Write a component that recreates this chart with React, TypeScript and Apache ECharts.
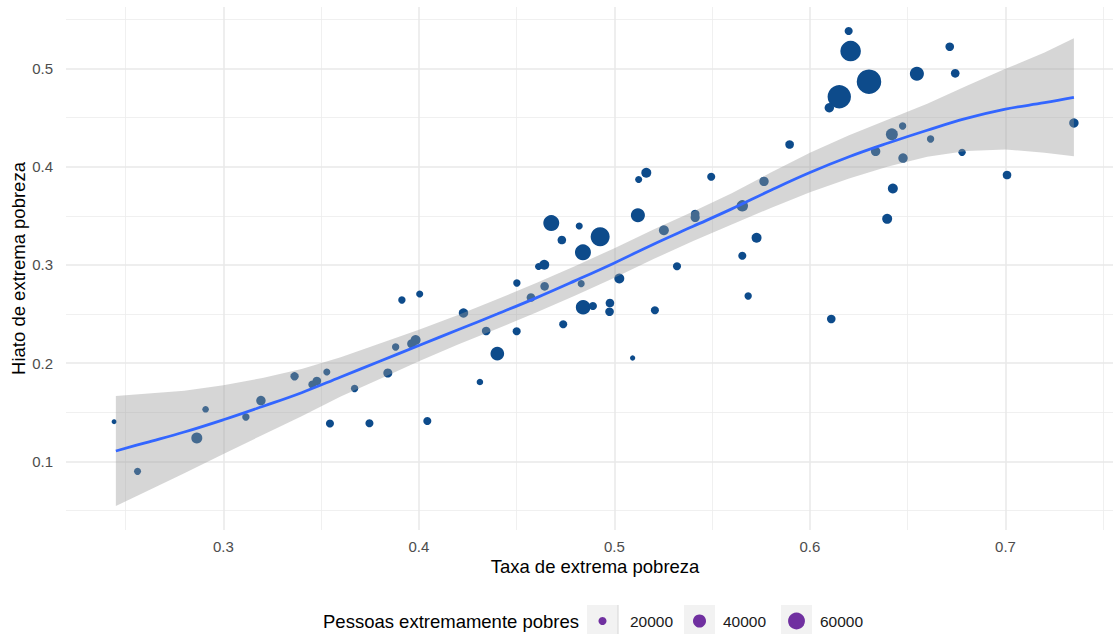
import { useEffect, useRef } from "react";
import * as echarts from "echarts";

// Taxa de extrema pobreza (x)
const rate = [
  0.2441, 0.2561, 0.2909, 0.2864, 0.3115, 0.3192, 0.3364, 0.3455, 0.3478, 0.3529,
  0.3545, 0.3671, 0.3747, 0.3841, 0.3881, 0.3963, 0.3983, 0.3913, 0.4004, 0.4043,
  0.4228, 0.4344, 0.4401, 0.4312, 0.45, 0.4501, 0.4573, 0.4643, 0.4612, 0.4641,
  0.4677, 0.4731, 0.482, 0.4927, 0.4839, 0.483, 0.484, 0.489, 0.4738, 0.4977,
  0.4975, 0.5025, 0.5093, 0.512, 0.5207, 0.5253, 0.532, 0.5163, 0.5124, 0.5495,
  0.5413, 0.5413, 0.5654, 0.5765, 0.5727, 0.5654, 0.5684, 0.5896, 0.6109, 0.6198,
  0.6208, 0.6302, 0.615, 0.6099, 0.6715, 0.6547, 0.6743, 0.6474, 0.6419, 0.6617,
  0.6336, 0.6476, 0.6778, 0.7008, 0.6424, 0.6395, 0.735,
];
// Hiato de extrema pobreza (y)
const gap = [
  0.1405, 0.09, 0.1531, 0.1239, 0.1453, 0.162, 0.1867, 0.1783, 0.1819, 0.191,
  0.1387, 0.1743, 0.139, 0.19, 0.2165, 0.2198, 0.2236, 0.2643, 0.2704, 0.1412,
  0.2511, 0.2328, 0.2097, 0.1809, 0.2325, 0.2816, 0.2668, 0.2782, 0.2984, 0.3002,
  0.3426, 0.3253, 0.3396, 0.3287, 0.3128, 0.2809, 0.2569, 0.2582, 0.2396, 0.2612,
  0.2524, 0.2862, 0.2053, 0.3505, 0.2538, 0.3353, 0.2986, 0.3938, 0.3869, 0.3897,
  0.3518, 0.3482, 0.3601, 0.385, 0.3276, 0.3094, 0.2684, 0.4225, 0.245, 0.5379,
  0.5176, 0.4864, 0.4711, 0.4599, 0.522, 0.4945, 0.4949, 0.4413, 0.4329, 0.4281,
  0.4156, 0.4087, 0.4145, 0.3915, 0.3777, 0.3469, 0.4444,
];
// Pessoas extremamente pobres (size)
const people = [
  11000, 17000, 15500, 31000, 18000, 25000, 21000, 20000, 22000, 17000,
  20000, 18000, 20000, 23500, 18000, 23500, 27000, 18000, 17000, 20000,
  25000, 22000, 43000, 15500, 20000, 18000, 22000, 22000, 17000, 27000,
  55000, 22000, 17000, 73000, 55000, 17000, 48000, 20000, 20000, 22000,
  22000, 27000, 12000, 45000, 20000, 27000, 20000, 27000, 17000, 20000,
  22000, 23500, 33000, 25000, 27000, 20000, 18000, 22000, 22000, 20000,
  83000, 112000, 103000, 25000, 22000, 45000, 22000, 18000, 35000, 18000,
  25000, 25000, 18000, 22000, 27000, 27000, 25000,
];

// Loess fit and confidence band
const fitX = [
  0.245, 0.26, 0.28, 0.3, 0.32, 0.34, 0.36, 0.38, 0.4, 0.42, 0.44, 0.46, 0.48,
  0.5, 0.52, 0.54, 0.56, 0.58, 0.6, 0.62, 0.64, 0.66, 0.68, 0.7, 0.72, 0.735,
];
const fitY = [
  0.1107, 0.119, 0.13, 0.1425, 0.156, 0.17, 0.186, 0.202, 0.218, 0.234, 0.25, 0.2665, 0.284,
  0.302, 0.321, 0.339, 0.357, 0.376, 0.394, 0.41, 0.424, 0.437, 0.449, 0.4585, 0.465, 0.4705,
];
const ciLow = [
  0.0547, 0.069, 0.088, 0.1075, 0.127, 0.146, 0.166, 0.184, 0.202, 0.219, 0.235, 0.2515, 0.269,
  0.287, 0.306, 0.324, 0.341, 0.358, 0.374, 0.388, 0.4, 0.41, 0.416, 0.4175, 0.414, 0.4105,
];
const ciHigh = [
  0.1667, 0.169, 0.172, 0.1775, 0.185, 0.194, 0.206, 0.22, 0.234, 0.249, 0.265, 0.2815, 0.299,
  0.317, 0.336, 0.354, 0.373, 0.394, 0.414, 0.432, 0.448, 0.464, 0.482, 0.4995, 0.516, 0.5305,
];

const xTicks = [0.3, 0.4, 0.5, 0.6, 0.7];
const xMinor = [0.25, 0.35, 0.45, 0.55, 0.65, 0.75];
const yTicks = [0.1, 0.2, 0.3, 0.4, 0.5];
const yMinor = [0.05, 0.15, 0.25, 0.35, 0.45, 0.55];
const legendBreaks = [20000, 40000, 60000];
const legendLabels = ["20000", "40000", "60000"];

const FONT = '"Liberation Sans", Arial, sans-serif';
const radius = (v: number) => -2.03 + 0.0427 * Math.sqrt(v);

export default function App() {
  const ref = useRef<HTMLDivElement>(null);
  useEffect(() => {
    if (!ref.current) return;
    const chart = echarts.init(ref.current, undefined, { renderer: "svg" });

    const gridLines = [
      ...xMinor.map((v) => ({ xAxis: v, lineStyle: { color: "#ececec", width: 0.8, type: "solid" } })),
      ...yMinor.map((v) => ({ yAxis: v, lineStyle: { color: "#ececec", width: 0.8, type: "solid" } })),
      ...xTicks.map((v) => ({ xAxis: v, lineStyle: { color: "#e8e8e8", width: 1.5, type: "solid" } })),
      ...yTicks.map((v) => ({ yAxis: v, lineStyle: { color: "#e8e8e8", width: 1.5, type: "solid" } })),
    ];

    const keyX = [587, 684, 781];
    const labelX = [630, 723, 820];
    const legendGraphics: any[] = [];
    legendBreaks.forEach((b, i) => {
      legendGraphics.push({
        type: "rect",
        shape: { x: keyX[i], y: 605, width: 31, height: 32 },
        style: { fill: "#f2f2f2" },
        z: 10,
      });
      legendGraphics.push({
        type: "circle",
        shape: { cx: keyX[i] + 15.5, cy: 621, r: radius(b) },
        style: { fill: "#7030a0" },
        z: 11,
      });
      legendGraphics.push({
        type: "text",
        x: labelX[i],
        y: 621,
        style: { text: legendLabels[i], fontSize: 15.5, fontFamily: FONT, fill: "#1a1a1a", align: "left", verticalAlign: "middle" },
        z: 11,
      });
    });
    legendGraphics.push({
      type: "line",
      shape: { x1: 618, y1: 605, x2: 618, y2: 637 },
      style: { stroke: "#d6d6d6", lineWidth: 1 },
      z: 11,
    });

    const option: any = {
      animation: false,
      grid: { left: 66, right: 0, top: 7, bottom: 104 },
      xAxis: {
        type: "value",
        min: 0.2195,
        max: 0.755,
        axisLine: { show: false },
        axisTick: { show: false },
        splitLine: { show: false },
        axisLabel: {
          customValues: xTicks,
          formatter: (v: number) => v.toFixed(1),
          color: "#4d4d4d",
          fontSize: 15,
          fontFamily: FONT,
          margin: 9,
        },
      },
      yAxis: {
        type: "value",
        min: 0.0303,
        max: 0.5624,
        axisLine: { show: false },
        axisTick: { show: false },
        splitLine: { show: false },
        axisLabel: {
          customValues: yTicks,
          formatter: (v: number) => v.toFixed(1),
          color: "#4d4d4d",
          fontSize: 15,
          fontFamily: FONT,
          margin: 13,
        },
      },
      series: [
        {
          type: "scatter",
          data: [],
          z: 0,
          silent: true,
          markLine: {
            z: 0,
            silent: true,
            animation: false,
            symbol: ["none", "none"],
            label: { show: false },
            emphasis: { disabled: true },
            data: gridLines,
          },
        },
        {
          type: "scatter",
          data: rate.map((x, i) => [x, gap[i], people[i]]),
          symbol: "circle",
          symbolSize: (d: number[]) => 2 * radius(d[2]),
          itemStyle: { color: "#0d4b8b", opacity: 1 },
          z: 6,
          silent: true,
        },
        {
          type: "custom",
          data: fitX.map((x, i) => [x, ciLow[i], ciHigh[i]]),
          encode: { x: 0, y: [1, 2] },
          z: 7,
          silent: true,
          clip: false,
          renderItem: (params: any, api: any) => {
            if (params.dataIndex !== 0) return null;
            const upper = fitX.map((x, i) => api.coord([x, ciHigh[i]]));
            const lower = fitX.map((x, i) => api.coord([x, ciLow[i]])).reverse();
            return {
              type: "polygon",
              shape: { points: upper.concat(lower) },
              style: { fill: "rgba(153,153,153,0.4)" },
            };
          },
        },
        {
          type: "line",
          data: fitX.map((x, i) => [x, fitY[i]]),
          smooth: 0.4,
          symbol: "none",
          showSymbol: false,
          lineStyle: { color: "#3366ff", width: 2.8 },
          z: 8,
          silent: true,
        },
      ],
      graphic: [
        {
          type: "text",
          x: 18,
          y: 268.5,
          rotation: Math.PI / 2,
          style: { text: "Hiato de extrema pobreza", fontSize: 18.5, fontFamily: FONT, fill: "#000", align: "center", verticalAlign: "middle" },
        },
        {
          type: "text",
          x: 595,
          y: 566,
          style: { text: "Taxa de extrema pobreza", fontSize: 18.5, fontFamily: FONT, fill: "#000", align: "center", verticalAlign: "middle" },
        },
        {
          type: "text",
          x: 323,
          y: 621,
          style: { text: "Pessoas extremamente pobres", fontSize: 18.5, fontFamily: FONT, fill: "#000", align: "left", verticalAlign: "middle" },
        },
        ...legendGraphics,
      ],
    };
    chart.setOption(option);
    return () => chart.dispose();
  }, []);
  return (
    <div
      ref={ref}
      style={{ position: "fixed", left: 0, top: 0, width: 1113, height: 634, background: "#fff" }}
    />
  );
}
